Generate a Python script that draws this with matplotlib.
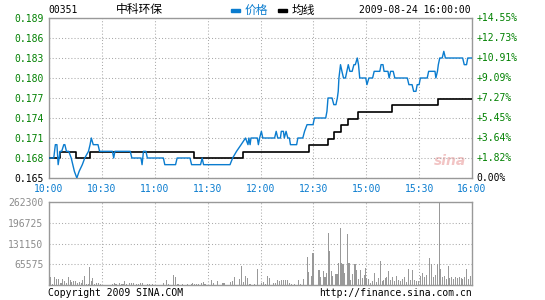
import matplotlib
matplotlib.use('Agg')
import matplotlib.pyplot as plt
from matplotlib.patches import Rectangle
from matplotlib.transforms import blended_transform_factory

code = '00351'
name = '中科环保'
stamp = '2009-08-24 16:00:00'
prev_close = 0.165
time_labels = ['10:00', '10:30', '11:00', '11:30', '12:00', '12:30', '15:00', '15:30', '16:00']
price_ticks = [0.165, 0.168, 0.171, 0.174, 0.177, 0.180, 0.183, 0.186, 0.189]
vol_ticks = [65575, 131150, 196725, 262300]

# price line: (minute since 10:00, price) at each turn of the line
price_min = [0, 2.7, 3.6, 4.5, 5.2, 6.3, 7.2, 8.4, 9.0, 9.9, 11.2, 12.6, 13.5, 14.4, 15.8,
             17.1, 18.9, 20.3, 22.4, 23.3, 24.0, 25.1, 27.8, 28.7, 36.0, 36.7, 37.4, 46.1,
             47.0, 52.2, 52.8, 53.6, 55.0, 55.8, 64.9, 65.7, 71.8, 72.7, 80.0, 80.9, 86.0,
             86.9, 87.7, 102.7, 104.2, 106.4, 109.0, 111.5, 112.9, 113.4, 114.1, 114.6,
             118.2, 118.8, 119.5, 120.5, 121.3, 128.0, 128.9, 129.8, 131.3, 131.8, 133.0,
             133.5, 134.5, 135.5, 136.4, 137.0, 140.5, 141.2, 144.0, 145.0, 146.4, 149.8,
             150.6, 157.0, 157.7, 158.3, 160.6, 161.6, 162.8, 163.6, 164.1, 164.5, 165.4,
             166.2, 167.1, 168.2, 169.0, 169.8, 170.7, 172.0, 173.0, 173.8, 174.9, 175.6,
             176.3, 179.7, 180.4, 181.5, 183.6, 184.5, 187.7, 188.4, 189.5, 190.1, 192.3,
             193.0, 193.8, 195.3, 196.2, 203.3, 204.2, 206.0, 206.9, 208.2, 208.9, 210.0,
             210.7, 214.6, 215.4, 219.0, 219.5, 220.4, 220.9, 221.7, 223.1, 224.0, 224.9,
             234.7, 235.6, 236.9, 237.6, 240]
price_val = [0.168, 0.168, 0.170, 0.170, 0.167, 0.169, 0.169, 0.170, 0.170, 0.169, 0.169,
             0.168, 0.167, 0.166, 0.165, 0.166, 0.167, 0.168, 0.169, 0.170, 0.171, 0.170,
             0.170, 0.169, 0.169, 0.168, 0.169, 0.169, 0.168, 0.168, 0.167, 0.169, 0.169,
             0.168, 0.168, 0.167, 0.167, 0.168, 0.168, 0.167, 0.167, 0.168, 0.167, 0.167,
             0.168, 0.169, 0.170, 0.171, 0.170, 0.171, 0.170, 0.171, 0.171, 0.170, 0.171,
             0.172, 0.171, 0.171, 0.172, 0.171, 0.171, 0.172, 0.172, 0.171, 0.172, 0.171,
             0.171, 0.170, 0.170, 0.171, 0.171, 0.172, 0.173, 0.173, 0.174, 0.174, 0.175,
             0.177, 0.177, 0.176, 0.176, 0.177, 0.178, 0.180, 0.182, 0.181, 0.180, 0.180,
             0.181, 0.182, 0.181, 0.181, 0.182, 0.182, 0.183, 0.182, 0.180, 0.180, 0.179,
             0.180, 0.180, 0.181, 0.181, 0.182, 0.182, 0.181, 0.181, 0.180, 0.181, 0.181,
             0.180, 0.180, 0.179, 0.179, 0.178, 0.178, 0.179, 0.179, 0.180, 0.180, 0.181,
             0.181, 0.180, 0.181, 0.182, 0.183, 0.183, 0.184, 0.183, 0.183, 0.182, 0.182,
             0.183, 0.183]

# average line, stepwise
avg_min = [0, 6.5, 15.5, 23.2, 82.0, 109.8, 147.5, 158.4, 161.5, 165.4, 169.5, 175.4,
           194.6, 220.8, 240]
avg_val = [0.168, 0.1689, 0.168, 0.1689, 0.168, 0.1689, 0.1699, 0.1709, 0.1719, 0.1729,
           0.1739, 0.1749, 0.1759, 0.1769, 0.1769]

# volume bars
vol_min = [0.9, 2, 3.2, 4.3, 5.4, 6.8, 7.9, 9, 10.1, 11.2, 12.3, 13, 14.1, 15.1, 16.2, 17.3,
           18.4, 18.9, 20, 21.1, 22.2, 23.2, 24.3, 24.9, 25.8, 27, 28.1, 29,
           36.2, 36.9, 38, 40.2, 41.3, 42, 42.7, 43.8, 45.9, 47, 48.1, 49.7, 50.8, 52.1,
           53.2, 55.7, 56.8, 58.9,
           64.9, 66.5, 67.6, 70.8, 71.9, 72.8, 73.7, 75.9, 78.4, 80.7, 81.6, 82.7, 83.8,
           84.9, 86.3, 87.4, 88.5,
           92.4, 93.5, 95.7, 98.2, 99.3, 103.2, 104.1, 105.4, 108.1, 109.2, 110.3, 111.4,
           112.4, 113.5, 114.4, 116.5, 118.5,
           120.4, 121.5, 122.6, 123.8, 124.9, 127.2, 128.3, 129.4, 130.6, 131.7, 132.8,
           134.0, 135.1, 136.2, 137.7, 139.2, 141.5, 142.6, 144.2, 146.4, 147.5, 148.7,
           149.8, 153.2, 154.3, 155.5, 156.6, 157.4, 158.5, 159.2, 160.4, 161.1, 162.3,
           163.4, 164.2, 165.3, 166.0, 166.8, 167.9, 169.1, 170.2, 170.9, 172.1, 173.2,
           174.0, 174.7, 175.8, 176.6, 177.7, 178.9, 179.6, 180.0, 181.1, 182.3, 183.4,
           184.5, 185.7, 186.8, 187.9, 189.1, 189.8, 190.9, 191.7, 192.8, 194.0, 195.1,
           196.2, 197.4, 198.5, 199.6, 200.8, 201.9, 203.0, 204.2, 205.3, 206.4, 207.5,
           208.7, 209.8, 210.9, 212.1, 213.2, 214.3, 215.8, 217.0, 218.1, 219.2, 220.4,
           221.5, 222.3, 223.4, 224.5, 225.3, 226.4, 227.2, 228.3, 229.4, 230.6, 231.7,
           232.8, 233.9, 234.7, 235.8, 237.0, 238.1, 239.2]
vol_val = [26000, 4000, 26000, 19000, 19000, 7000, 19000, 12000, 7000, 26000, 16000, 10000,
           12000, 12000, 7000, 10000, 5000, 16000, 29000, 4000, 4000, 57000, 12000, 23000,
           4000, 6000, 6000, 4000,
           4000, 6000, 2000, 6000, 2000, 4000, 12000, 2000, 6000, 6000, 6000, 3000, 3000,
           6000, 6000, 3000, 3000, 4000,
           6000, 16000, 4000, 31000, 25000, 4000, 4000, 3000, 3000, 3000, 6000, 4000, 3000,
           4000, 6000, 10000, 4000,
           16000, 6000, 12000, 6000, 6000, 10000, 12000, 25000, 19000, 60000, 8000, 28000,
           21000, 4000, 4000, 3000, 50000,
           7000, 9000, 3000, 28000, 21000, 5000, 7000, 16000, 14000, 16000, 16000,
           16000, 16000, 7000, 3000, 3000, 16000, 3000, 18000, 89000, 42000, 28000,
           100000, 47000, 24000, 45000, 24000, 37000, 165000, 107000, 44000, 28000, 35000,
           35000, 70000, 180000, 70000, 66000, 39000, 160000, 70000, 16000, 35000, 66000,
           66000, 47000, 18000, 47000, 21000, 31000, 55000, 21000, 18000, 7000, 14000,
           39000, 10000, 21000, 77000, 14000, 16000, 21000, 24000, 45000, 16000, 24000,
           14000, 28000, 16000, 14000, 18000, 24000, 10000, 52000, 16000, 47000, 16000,
           14000, 14000, 28000, 39000, 24000, 31000, 84000, 66000, 24000, 31000, 66000,
           262300, 52000, 24000, 28000, 18000, 60000, 21000, 24000, 18000, 24000, 21000,
           24000, 21000, 18000, 24000, 49000, 18000, 28000]

W, H = 545, 300
fig = plt.figure(figsize=(W / 100, H / 100), dpi=100)
fig.patch.set_facecolor('white')

def fx(px):
    return px / W

def fy(py):
    return 1 - py / H

grid_c = '#aaaaaa'
frame_c = '#999999'
blue = '#0a7ccf'
green = '#008000'
mono = 'DejaVu Sans Mono'
cjk = ['Noto Sans CJK SC', 'DejaVu Sans']

ax = fig.add_axes([fx(49), fy(178), fx(472) - fx(49), fy(18) - fy(178)])
axv = fig.add_axes([fx(49), fy(285), fx(472) - fx(49), fy(202) - fy(285)])

minutes = [i * 30 for i in range(len(time_labels))]

ax.plot(avg_min, avg_val, color='black', lw=1.2, drawstyle='steps-post', zorder=3)
ax.plot(price_min, price_val, color=blue, lw=1.0, zorder=4)
ax.set_xlim(0, 240)
ax.set_ylim(price_ticks[0], price_ticks[-1])
ax.set_xticks(minutes)
ax.set_xticklabels(time_labels, fontfamily=mono, fontsize=7, color=blue)
ax.set_yticks(price_ticks)
ax.set_yticklabels(['%.3f' % p for p in price_ticks], fontfamily=mono, fontsize=7)
for lab, p in zip(ax.get_yticklabels(), price_ticks):
    lab.set_color('black' if p == prev_close else green)
ax.tick_params(length=0, pad=4)
ax.grid(True, color=grid_c, linestyle=(0, (1, 2)), lw=0.75)
for s in ax.spines.values():
    s.set_color(frame_c)
    s.set_linewidth(1.0)

tr = blended_transform_factory(ax.transAxes, ax.transData)
for p in price_ticks:
    pct = (p / prev_close - 1) * 100
    txt = '0.00%' if p == prev_close else '+%.2f%%' % pct
    ax.text(1.01, p, txt, transform=tr, ha='left', va='center', fontfamily=mono,
            fontsize=7, color='black' if p == prev_close else green)

ax.text(0.985, 0.06, 'sina', transform=ax.transAxes, ha='right', va='bottom',
        fontsize=10, fontstyle='italic', fontweight='bold', color='#f2c4c4', zorder=1)

axv.bar(vol_min, vol_val, width=0.6, color='#999999', lw=0, antialiased=False, zorder=3)
axv.set_xlim(0, 240)
axv.set_ylim(0, vol_ticks[-1])
axv.set_xticks(minutes)
axv.set_xticklabels([])
axv.set_yticks(vol_ticks)
axv.set_yticklabels([str(v) for v in vol_ticks], fontfamily=mono, fontsize=7, color='#8c8c8c')
axv.tick_params(length=0, pad=4)
axv.grid(True, color=grid_c, linestyle=(0, (1, 2)), lw=0.75)
for s in axv.spines.values():
    s.set_color(frame_c)
    s.set_linewidth(1.0)

# header
fig.text(fx(48), fy(10), code, fontfamily=mono, fontsize=7, va='center', ha='left')
fig.text(fx(116), fy(10), name, family=cjk, fontsize=8.5, va='center', ha='left')
fig.patches.append(Rectangle((fx(231), fy(12)), fx(9), 3 / H, color=blue,
                             transform=fig.transFigure, figure=fig))
fig.text(fx(245), fy(10), '价格', family=cjk, fontsize=8.5, va='center', ha='left', color=blue)
fig.patches.append(Rectangle((fx(278), fy(12)), fx(9), 3 / H, color='black',
                             transform=fig.transFigure, figure=fig))
fig.text(fx(292), fy(10), '均线', family=cjk, fontsize=8.5, va='center', ha='left', color='black')
fig.text(fx(471), fy(10), stamp, fontfamily=mono, fontsize=7, va='center', ha='right')

# footer
fig.text(fx(48), fy(293), 'Copyright 2009 SINA.COM', fontfamily=mono, fontsize=7,
         va='center', ha='left')
fig.text(fx(472), fy(293), 'http://finance.sina.com.cn', fontfamily=mono, fontsize=7,
         va='center', ha='right')

fig.savefig('out.png', dpi=100)
